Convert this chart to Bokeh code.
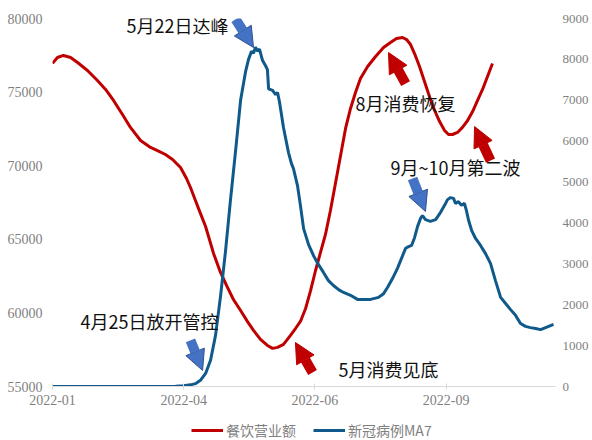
from bokeh.plotting import figure
from bokeh.layouts import column
from bokeh.models import (Range1d, LinearAxis, FixedTicker, Legend, LegendItem,
                          Label, Arrow, NormalHead)
from bokeh.embed import file_html
from bokeh.resources import INLINE

# ---- data (x = period index; ticks every 66 periods) ----
tick_pos = [0, 66, 132, 198]
tick_labels = ["2022-01", "2022-04", "2022-06", "2022-09"]
series_names = ["餐饮营业额", "新冠病例MA7"]

sales_x = [0, 2.5, 5.5, 9.1, 12.6, 17.6, 22.6, 26.7, 30.7, 35.2, 39.2, 44.3, 49.3,
           52.8, 56.8, 60.4, 64.4, 67.4, 69.4, 71.9, 74.4, 77.0, 81.0, 84.5, 88.0,
           91.0, 94.6, 98.1, 101.1, 104.6, 108.1, 110.7, 113.2, 116.2, 119.7, 122.2,
           124.7, 127.3, 129.8, 132.3, 134.8, 137.3, 139.8, 142.4, 144.9, 147.4,
           149.9, 152.4, 154.9, 158.5, 162.5, 166.5, 170.0, 173.0, 176.1, 178.1,
           180.1, 182.1, 184.6, 187.1, 189.6, 192.2, 194.7, 197.2, 199.2, 201.2,
           203.7, 206.2, 208.8, 211.3, 213.8, 216.3, 218.8, 221.3]
sales = [76950, 77350, 77490, 77350, 77010, 76470, 75790, 75180, 74430, 73480,
         72600, 71710, 71240, 71030, 70760, 70420, 69880, 69130, 68520, 67640,
         66760, 65870, 64040, 62750, 61730, 60910, 60160, 59410, 58810, 58200,
         57790, 57590, 57660, 57860, 58470, 58940, 59420, 60300, 61520, 62880,
         64110, 65330, 66960, 68860, 70690, 72530, 73890, 74970, 75920, 76740,
         77420, 78030, 78370, 78640, 78710, 78570, 78230, 77620, 76740, 75720,
         74700, 73750, 73000, 72390, 72120, 72120, 72260, 72600, 73070, 73680,
         74430, 75180, 76060, 76940]

cases_x = [0, 24.1, 49.3, 61.9, 65.9, 69.4, 71.9, 74.4, 77.0, 79.5, 82.0, 84.5,
           87.0, 89.5, 92.1, 94.6, 97.1, 98.6, 100.1, 101.1, 102.1, 103.1, 104.1,
           105.6, 107.1, 108.1, 108.7, 110.7, 112.2, 113.2, 114.2, 116.2, 118.7,
           120.2, 121.2, 123.2, 124.7, 126.3, 128.8, 131.3, 133.8, 136.3, 138.8,
           141.3, 143.9, 146.4, 149.9, 153.4, 156.4, 160.0, 164.0, 166.5, 168.5,
           171.0, 173.5, 176.1, 177.6, 179.1, 180.6, 182.1, 183.6, 185.1, 186.1,
           187.6, 190.1, 192.7, 195.2, 197.2, 198.7, 200.2, 201.7, 202.7, 204.2,
           205.7, 207.2, 208.2, 209.3, 210.8, 212.8, 215.3, 217.8, 220.3, 222.8,
           225.4, 227.9, 230.4, 232.9, 235.4, 237.9, 240.4, 243.0, 245.5, 248.0,
           250.5, 252.0]
cases = [0, 0, 0, 5, 20, 40, 70, 150, 320, 640, 1250, 2200, 3300, 4550, 5770,
         7000, 7700, 8000, 8200, 8150, 8300, 8200, 8250, 7980, 7850, 7750, 7280,
         7240, 7140, 7190, 6950, 6330, 5720, 5450, 5330, 4920, 4430, 3860, 3470,
         3200, 2980, 2790, 2590, 2470, 2370, 2300, 2230, 2130, 2130, 2130, 2180,
         2270, 2420, 2640, 2890, 3200, 3380, 3420, 3450, 3640, 3910, 4110, 4180,
         4080, 4040, 4080, 4260, 4430, 4570, 4620, 4600, 4480, 4520, 4430, 4480,
         4300, 4060, 3820, 3620, 3450, 3250, 3010, 2590, 2180, 2030, 1880, 1740,
         1540, 1470, 1440, 1420, 1390, 1440, 1490, 1520]

RED = "#C00000"
BLUE = "#0F5A8B"
GRAY = "#7F7F7F"
AX = "#D9D9D9"
SERIF = "Liberation Serif"
CJK = "Noto Sans CJK SC"
NAN = float("nan")

p = figure(width=592, height=410, output_backend="svg", toolbar_location=None,
           x_range=Range1d(0, 253), y_range=Range1d(55000, 80000),
           min_border_left=52, min_border_right=37, min_border_top=18,
           min_border_bottom=24)
p.outline_line_color = None
p.xgrid.visible = False
p.ygrid.visible = False
p.extra_y_ranges = {"cases": Range1d(0, 9000)}

# left axis
yl = p.yaxis[0]
yl.ticker = FixedTicker(ticks=[55000, 60000, 65000, 70000, 75000, 80000])
yl.axis_line_color = None
yl.major_tick_line_color = None
yl.major_tick_in = 0
yl.major_tick_out = 0
yl.minor_tick_line_color = None
yl.major_label_text_color = GRAY
yl.major_label_text_font = SERIF
yl.major_label_text_font_size = "14px"
yl.major_label_standoff = 10

# right axis
yr = LinearAxis(y_range_name="cases",
                ticker=FixedTicker(ticks=list(range(0, 9001, 1000))))
yr.axis_line_color = None
yr.major_tick_line_color = None
yr.major_tick_in = 0
yr.major_tick_out = 0
yr.minor_tick_line_color = None
yr.major_label_text_color = GRAY
yr.major_label_text_font = SERIF
yr.major_label_text_font_size = "13px"
yr.major_label_standoff = 7
p.add_layout(yr, "right")

# bottom axis
xa = p.xaxis[0]
xa.ticker = FixedTicker(ticks=tick_pos)
xa.major_label_overrides = {t: l for t, l in zip(tick_pos, tick_labels)}
xa.axis_line_color = AX
xa.major_tick_line_color = AX
xa.major_tick_in = 3
xa.major_tick_out = 3
xa.minor_tick_line_color = None
xa.major_label_text_color = GRAY
xa.major_label_text_font = SERIF
xa.major_label_text_font_size = "14px"
xa.major_label_standoff = 5

p.line(sales_x, sales, line_color=RED, line_width=3)
p.line(cases_x, cases, line_color=BLUE, line_width=3, y_range_name="cases")

# annotations
notes = [
    ("5月22日达峰", 37.2, 79590),
    ("8月消费恢复", 152.4, 74230),
    ("9月~10月第二波", 170.0, 69880),
    ("4月25日放开管控", 14.1, 59480),
    ("5月消费见底", 143.9, 56220),
]
for txt, x, y in notes:
    p.add_layout(Label(x=x, y=y, text=txt, text_font=CJK,
                       text_font_size="18px", text_color="#111111",
                       text_baseline="middle", text_align="left"))

arrows = [
    # (x_start, y_start, x_end, y_end, color, edge)
    (92.1, 79950, 101.1, 78030, "#4472C4", "#2F528F"),
    (69.4, 58130, 75.5, 56090, "#4472C4", "#2F528F"),
    (181.1, 69130, 187.6, 66890, "#4472C4", "#2F528F"),
    (177.6, 75580, 169.0, 77690, RED, RED),
    (220.3, 70350, 212.3, 72660, RED, RED),
    (130.8, 55950, 122.2, 57990, RED, RED),
]
for xs, ys, xe, ye, col, edge in arrows:
    p.add_layout(Arrow(x_start=xs, y_start=ys, x_end=xe, y_end=ye,
                       line_color=col, line_width=10,
                       end=NormalHead(size=20, fill_color=col,
                                      line_color=edge, line_width=1)))

# legend strip below the chart
lg = figure(width=592, height=30, output_backend="svg", toolbar_location=None,
            x_range=Range1d(0, 1), y_range=Range1d(0, 1),
            x_axis_location=None, y_axis_location=None,
            min_border=0, outline_line_color=None)
lg.xgrid.visible = False
lg.ygrid.visible = False
lr1 = lg.line(x=[NAN], y=[NAN], line_color=RED, line_width=3)
lr2 = lg.line(x=[NAN], y=[NAN], line_color=BLUE, line_width=3)
legend = Legend(items=[LegendItem(label=series_names[0], renderers=[lr1]),
                       LegendItem(label=series_names[1], renderers=[lr2])],
                orientation="horizontal", location=(139, 0),
                border_line_color=None, background_fill_alpha=0,
                glyph_width=32, glyph_height=16, label_standoff=3, spacing=17,
                padding=0, margin=0,
                label_text_font=CJK, label_text_font_size="14px",
                label_text_color=GRAY)
lg.add_layout(legend)

layout = column(p, lg, spacing=0)
open("out.html", "w").write(file_html(layout, INLINE))
